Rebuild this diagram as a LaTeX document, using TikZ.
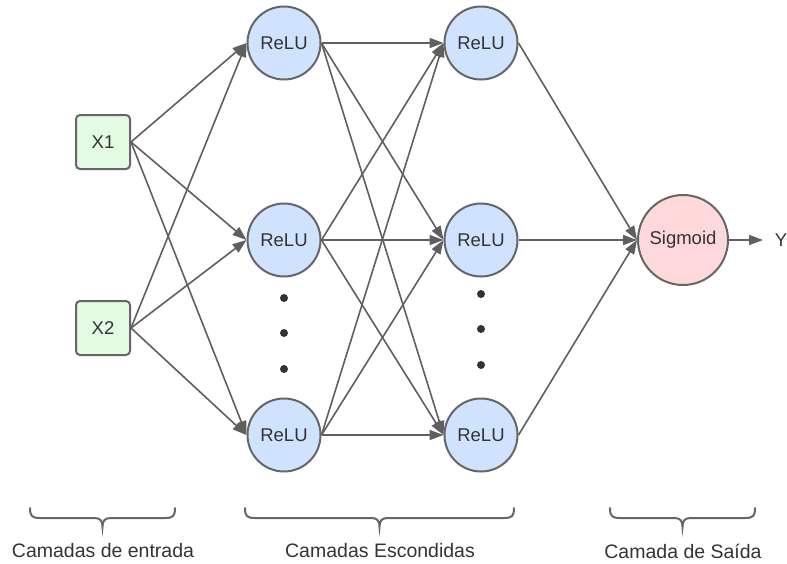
\documentclass[tikz,border=0pt]{standalone}
\usepackage{fontspec}
\setmainfont{Liberation Sans}
\usetikzlibrary{arrows.meta}
\definecolor{edge}{HTML}{5F5F5F}
\definecolor{rim}{HTML}{666666}
\definecolor{ink}{HTML}{333333}
\definecolor{inputfill}{HTML}{E3FAE3}
\definecolor{hiddenfill}{HTML}{CFE3FF}
\definecolor{outfill}{HTML}{FFD9D9}
\tikzset{
  inputbox/.style={draw=rim, line width=2pt, fill=inputfill, rounded corners=4pt,
    minimum width=54pt, minimum height=54pt, inner sep=0pt, text=ink,
    font=\fontsize{18.5}{20}\selectfont},
  relu/.style={draw=rim, line width=2pt, fill=hiddenfill, circle,
    minimum size=73pt, inner sep=0pt, text=ink, font=\fontsize{18.5}{20}\selectfont},
  sigm/.style={draw=rim, line width=2pt, fill=outfill, circle,
    minimum size=90pt, inner sep=0pt, text=ink, font=\fontsize{18.5}{20}\selectfont},
  link/.style={draw=edge, line width=1.6pt, -{Triangle[length=14pt,width=10pt]}},
  dotmark/.style={circle, fill=ink, inner sep=0pt, minimum size=8pt},
  bracepath/.style={draw=rim, line width=2pt, line cap=round},
  caption/.style={text=ink, font=\fontsize{19.5}{21}\selectfont},
  plain/.style={text=ink, font=\fontsize{18.5}{20}\selectfont, inner sep=0pt}
}
\begin{document}
\begin{tikzpicture}[x=1pt,y=-1pt]
\useasboundingbox (0,0) rectangle (787,563);

% input layer
\node[inputbox] (x1) at (103,142) {X1};
\node[inputbox] (x2) at (103,328) {X2};

% first hidden layer
\node[relu] (a1) at (284,43) {ReLU};
\node[relu] (a2) at (284,240) {ReLU};
\node[relu] (a3) at (284,435) {ReLU};

% second hidden layer
\node[relu] (b1) at (481,43) {ReLU};
\node[relu] (b2) at (481,240) {ReLU};
\node[relu] (b3) at (481,435) {ReLU};

% output
\node[sigm] (s) at (683,240) {Sigmoid};
\node[plain] (y) at (781,240) {Y};
\coordinate (yend) at (763,240);

% ellipsis dots
\node[dotmark] (d1) at (284,298) {};
\node[dotmark] (d2) at (284,333) {};
\node[dotmark] (d3) at (284,369) {};
\node[dotmark] (e1) at (481,294) {};
\node[dotmark] (e2) at (481,329) {};
\node[dotmark] (e3) at (481,365) {};

% connections
\foreach \i in {x1,x2}
  \foreach \j in {a1,a2,a3}
    \draw[link] (\i.east) -- (\j.west);
\foreach \i in {a1,a2,a3}
  \foreach \j in {b1,b2,b3}
    \draw[link] (\i.east) -- (\j.west);
\foreach \i in {b1,b2,b3}
  \draw[link] (\i.east) -- (s.west);
\draw[link] (s.east) -- (yend);

% braces
\foreach \l/\r in {30/175, 245/514, 610/755}{
  \pgfmathsetmacro{\m}{(\l+\r)/2}
  \draw[bracepath] (\l,508) .. controls (\l,516) and (\l+2,518) .. (\l+10,518)
    -- (\m-8,518) .. controls (\m-2,518) and (\m,521) .. (\m,527)
    .. controls (\m,521) and (\m+2,518) .. (\m+8,518)
    -- (\r-10,518) .. controls (\r-2,518) and (\r,516) .. (\r,508);
}

% layer captions
\node[caption] (c1) at (103,551) {Camadas de entrada};
\node[caption] (c2) at (380,551) {Camadas Escondidas};
\node[caption] (c3) at (683,551) {Camada de Saída};
\end{tikzpicture}
\end{document}
